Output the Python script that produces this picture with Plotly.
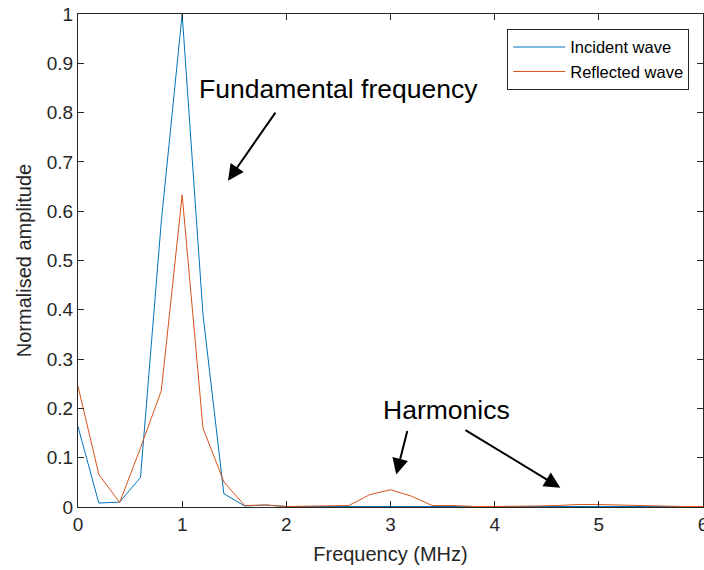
import plotly.graph_objects as go

# Frequency bins (MHz)
freq = [round(0.2 * i, 1) for i in range(31)]

# Normalised spectral amplitudes
incident = [0.163, 0.008, 0.010, 0.060, 0.580, 1.000, 0.390, 0.027, 0.002, 0.004,
            0.001, 0.001, 0.002, 0.002, 0.001, 0.001, 0.001, 0.001, 0.001, 0.001,
            0.001, 0.001, 0.001, 0.001, 0.001, 0.001, 0.001, 0.001, 0.001, 0.001,
            0.001]
reflected = [0.245, 0.066, 0.009, 0.120, 0.236, 0.633, 0.160, 0.051, 0.003, 0.004,
             0.001, 0.002, 0.003, 0.003, 0.025, 0.035, 0.022, 0.003, 0.003, 0.001,
             0.001, 0.001, 0.002, 0.003, 0.005, 0.005, 0.004, 0.002, 0.001, 0.001,
             0.001]

x_ticks = [0, 1, 2, 3, 4, 5, 6]
y_ticks = [round(0.1 * i, 1) for i in range(11)]
y_labels = ["0"] + [f"{v:g}" for v in y_ticks[1:]]

BLUE = "#0072BD"
ORANGE = "#D95319"
INK = "#262626"
FONT = "Liberation Sans, Arial, sans-serif"

fig = go.Figure()
fig.add_trace(go.Scatter(x=freq, y=incident, mode="lines", name="Incident wave",
                         line=dict(color=BLUE, width=1)))
fig.add_trace(go.Scatter(x=freq, y=reflected, mode="lines", name="Reflected wave",
                         line=dict(color=ORANGE, width=1)))

axis_common = dict(showline=True, linecolor=INK, linewidth=1, mirror="allticks",
                   ticks="inside", ticklen=6, tickcolor=INK, showgrid=False,
                   zeroline=False, ticklabeloverflow="allow", automargin=False,
                   tickfont=dict(family=FONT, size=19, color=INK))

fig.update_xaxes(range=[0, 6], tickvals=x_ticks, ticktext=[str(v) for v in x_ticks],
                 title=dict(text="Frequency (MHz)", font=dict(family=FONT, size=20, color=INK),
                            standoff=13),
                 **axis_common)
fig.update_yaxes(range=[0, 1], tickvals=y_ticks, ticktext=y_labels,
                 title=dict(text="Normalised amplitude", font=dict(family=FONT, size=20, color=INK),
                            standoff=9),
                 **axis_common)

# Text labels
fig.add_annotation(x=2.5, y=0.848, xref="x", yref="y", text="Fundamental frequency",
                   showarrow=False, font=dict(family=FONT, size=26.5, color="black"))
fig.add_annotation(x=3.535, y=0.196, xref="x", yref="y", text="Harmonics",
                   showarrow=False, font=dict(family=FONT, size=26.5, color="black"))

# Pointer arrows (tail -> head)
arrows = [((1.905, 0.803), (1.440, 0.662)),
          ((3.165, 0.157), (3.055, 0.066)),
          ((3.705, 0.158), (4.630, 0.039))]
for (tx, ty), (hx, hy) in arrows:
    fig.add_annotation(x=hx, y=hy, ax=tx, ay=ty, xref="x", yref="y", axref="x", ayref="y",
                       text="", showarrow=True, arrowhead=2, arrowsize=1.6, arrowwidth=2,
                       arrowcolor="black", standoff=0)

fig.update_layout(
    width=704, height=570,
    margin=dict(l=78, r=1, t=14, b=63),
    paper_bgcolor="white", plot_bgcolor="white",
    legend=dict(x=0.978, y=0.97, xanchor="right", yanchor="top",
                bgcolor="white", bordercolor=INK, borderwidth=1,
                font=dict(family=FONT, size=16.5, color="black"),
                tracegroupgap=0, itemwidth=52),
)

fig.write_html("out.html")
